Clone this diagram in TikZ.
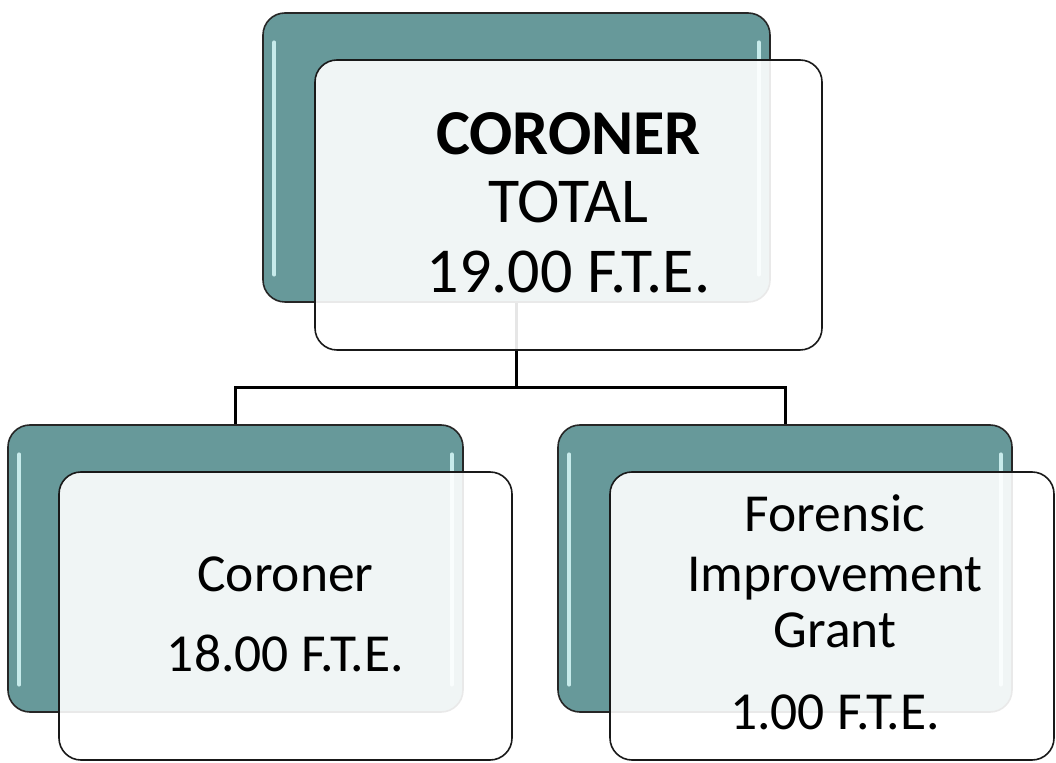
\documentclass[tikz,border=0pt]{standalone}
\usepackage{fontspec}
\setmainfont{Carlito}
\definecolor{teal1}{HTML}{67999A}
\definecolor{hilite}{HTML}{D2F4F4}
\begin{document}
\begin{tikzpicture}[x=1pt,y=1pt,
  backbox/.style={draw=black!85,line width=1.6pt,fill=teal1,rounded corners=22pt,inner sep=0pt},
  frontbox/.style={draw=black!90,line width=1.6pt,fill=white,fill opacity=0.9,rounded corners=22pt,inner sep=0pt},
  conn/.style={draw=black,line width=3pt},
  hl/.style={draw=hilite,line width=3.5pt,line cap=round,opacity=0.9},
  toptxt/.style={anchor=base,font=\fontsize{64}{70}\selectfont,inner sep=0pt},
  subtxt/.style={anchor=base,font=\fontsize{53.5}{60}\selectfont,inner sep=0pt}]
\useasboundingbox (0,0) rectangle (1056,762);
% back boxes
\node[backbox,minimum width=507pt,minimum height=289pt] (topback) at (516.5,604.5) {};
\node[backbox,minimum width=455pt,minimum height=287pt] (lback) at (235.5,193.5) {};
\node[backbox,minimum width=454pt,minimum height=287pt] (rback) at (785,193.5) {};
% highlights
\foreach \b in {topback,lback,rback}{
  \draw[hl] ([shift={(12pt,-30pt)}]\b.north west) -- ([shift={(12pt,28pt)}]\b.south west);
  \draw[hl] ([shift={(-12pt,-30pt)}]\b.north east) -- ([shift={(-12pt,28pt)}]\b.south east);
}
% connectors
\coordinate (bus) at (516.5,374);
\draw[conn] (topback.south) -- (bus);
\draw[conn] (lback.north) |- (bus) -| (rback.north);
% front boxes
\node[frontbox,minimum width=507pt,minimum height=290pt] (topfront) at (568.5,557) {};
\node[frontbox,minimum width=453pt,minimum height=288pt] (lfront) at (285.5,146) {};
\node[frontbox,minimum width=444pt,minimum height=288pt] (rfront) at (832,146) {};
% texts
\node[toptxt] (t1) at (568.5,607) {\bfseries CORONER};
\node[toptxt] (t2) at (568.5,539) {TOTAL};
\node[toptxt] (t3) at (568.5,469) {19.00 F.T.E.};
\node[subtxt] (l1) at (285.5,170) {Coroner};
\node[subtxt] (l2) at (285.5,90) {18.00 F.T.E.};
\node[subtxt] (r1) at (835,230) {Forensic};
\node[subtxt] (r2) at (835,170) {Improvement};
\node[subtxt] (r3) at (835,114) {Grant};
\node[subtxt] (r4) at (835,32) {1.00 F.T.E.};
\end{tikzpicture}
\end{document}
